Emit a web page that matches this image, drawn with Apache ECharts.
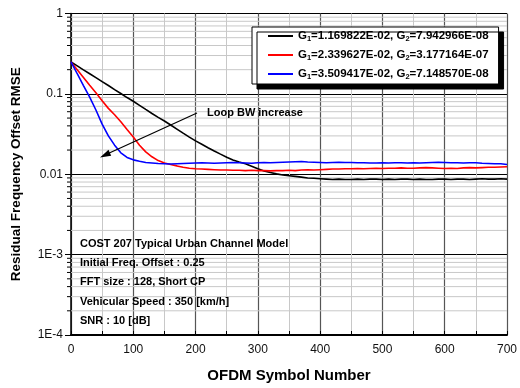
<!DOCTYPE html>
<html>
<head>
<meta charset="utf-8">
<script src="https://cdn.jsdelivr.net/npm/echarts@6/dist/echarts.min.js"></script>
<style>
  html, body { margin: 0; padding: 0; background: #fff; }
  #chart { width: 520px; height: 388px; }
</style>
</head>
<body>
<div id="chart"></div>
<script>
// OFDM symbol index sampled every 10 symbols
const symbols = [
  0, 10, 20, 30, 40, 50, 60, 70, 80, 90,
  100, 110, 120, 130, 140, 150, 160, 170, 180, 190,
  200, 210, 220, 230, 240, 250, 260, 270, 280, 290,
  300, 310, 320, 330, 340, 350, 360, 370, 380, 390,
  400, 410, 420, 430, 440, 450, 460, 470, 480, 490,
  500, 510, 520, 530, 540, 550, 560, 570, 580, 590,
  600, 610, 620, 630, 640, 650, 660, 670, 680, 690, 700
];

// Residual frequency offset RMSE for each loop gain pair
const rmseLoop1 = [
  0.250, 0.223, 0.199, 0.178, 0.159, 0.142, 0.127, 0.113, 0.101, 0.090,
  0.081, 0.072, 0.064, 0.057, 0.051, 0.046, 0.041, 0.0365, 0.0325, 0.0290,
  0.0260, 0.0236, 0.0214, 0.0195, 0.0178, 0.0163, 0.0150, 0.0142, 0.0135, 0.0126,
  0.0117, 0.0110, 0.0105, 0.0101, 0.0098, 0.0096, 0.0094, 0.0092, 0.0090, 0.0089,
  0.0088, 0.0087, 0.0086, 0.0087, 0.0086, 0.0086, 0.0087, 0.0086, 0.0087, 0.0087,
  0.0086, 0.0087, 0.0086, 0.0087, 0.0087, 0.0086, 0.0087, 0.0086, 0.0086, 0.0087,
  0.0087, 0.0086, 0.0087, 0.0087, 0.0086, 0.0087, 0.0088, 0.0087, 0.0087, 0.0088, 0.0087
];
const rmseLoop2 = [
  0.250, 0.200, 0.160, 0.128, 0.103, 0.082, 0.066, 0.055, 0.045, 0.036,
  0.029, 0.023, 0.019, 0.0165, 0.0148, 0.0138, 0.0132, 0.0127, 0.0122, 0.0119,
  0.0117, 0.0116, 0.0115, 0.0114, 0.0113, 0.0113, 0.0112, 0.0112, 0.0111, 0.0112,
  0.0111, 0.0111, 0.0110, 0.0111, 0.0111, 0.0112, 0.0111, 0.0113, 0.0114, 0.0113,
  0.0114, 0.0115, 0.0116, 0.0116, 0.0117, 0.0117, 0.0118, 0.0117, 0.0118, 0.0119,
  0.0118, 0.0119, 0.0119, 0.0120, 0.0119, 0.0119, 0.0120, 0.0121, 0.0120, 0.0119,
  0.0118, 0.0119, 0.0118, 0.0120, 0.0121, 0.0120, 0.0121, 0.0122, 0.0122, 0.0123, 0.0124
];
const rmseLoop3 = [
  0.250, 0.178, 0.127, 0.091, 0.063, 0.042, 0.030, 0.023, 0.0185, 0.0162,
  0.0151, 0.0145, 0.0140, 0.0138, 0.0136, 0.0135, 0.0134, 0.0135, 0.0136, 0.0137,
  0.0138, 0.0139, 0.0138, 0.0137, 0.0138, 0.0139, 0.0140, 0.0139, 0.0138, 0.0137,
  0.0139, 0.0140, 0.0139, 0.0140, 0.0141, 0.0142, 0.0143, 0.0144, 0.0142, 0.0141,
  0.0140, 0.0139, 0.0140, 0.0141, 0.0140, 0.0140, 0.0139, 0.0139, 0.0138, 0.0138,
  0.0139, 0.0138, 0.0139, 0.0139, 0.0138, 0.0139, 0.0138, 0.0139, 0.0140, 0.0141,
  0.0140, 0.0139, 0.0139, 0.0138, 0.0139, 0.0139, 0.0137, 0.0136, 0.0135, 0.0135, 0.0132
];

// Loop filter gains (G1, G2) for each curve
const gainG1 = ['1.169822E-02', '2.339627E-02', '3.509417E-02'];
const gainG2 = ['7.942966E-08', '3.177164E-07', '7.148570E-08'];
const curveColors = ['#000000', '#ff0000', '#0000ff'];

// Log axis decade labels
const decadeValues = [1e-4, 1e-3, 1e-2, 1e-1, 1];
const decadeLabels = ['1E-4', '1E-3', '0.01', '0.1', '1'];

// Simulation conditions
const conditions = [
  'COST 207 Typical Urban Channel Model',
  'Initial Freq. Offset : 0.25',
  'FFT size : 128, Short CP',
  'Vehicular Speed : 350 [km/h]',
  'SNR : 10 [dB]'
];

// Intermediate log gridlines (2..9 within each decade)
const minorLevels = [];
for (let d = 0; d < decadeValues.length - 1; d++) {
  for (let m = 2; m <= 9; m++) minorLevels.push(m * decadeValues[d]);
}

const FONT = '"Liberation Sans", Arial, Helvetica, sans-serif';
const chart = echarts.init(document.getElementById('chart'), null, { renderer: 'canvas' });

const rmseSets = [rmseLoop1, rmseLoop2, rmseLoop3];
const seriesNames = gainG1.map((g1, i) => 'G1=' + g1 + ', G2=' + gainG2[i]);

const lineSeries = rmseSets.map((vals, i) => ({
  name: seriesNames[i],
  type: 'line',
  data: symbols.map((s, k) => [s, vals[k]]),
  showSymbol: false,
  symbol: 'none',
  lineStyle: { color: curveColors[i], width: 1.6 },
  itemStyle: { color: curveColors[i] },
  z: 5,
  animation: false
}));

// Minor horizontal gridlines and left-side minor ticks on the log axis
const minorGridSeries = {
  type: 'custom',
  data: minorLevels.map(v => [v]),
  z: 1,
  silent: true,
  animation: false,
  renderItem: function (params, api) {
    const v = api.value(0);
    const p0 = api.coord([0, v]);
    const p1 = api.coord([700, v]);
    return {
      type: 'group',
      children: [
        { type: 'line', shape: { x1: p0[0], y1: p0[1], x2: p1[0], y2: p1[1] },
          style: { stroke: '#c8c8c8', lineWidth: 1 } },
        { type: 'line', shape: { x1: p0[0] - 4, y1: p0[1], x2: p0[0], y2: p0[1] },
          style: { stroke: '#000', lineWidth: 1 } }
      ]
    };
  },
  encode: { y: 0 }
};

const legendRich = {
  m: { fontFamily: FONT, fontSize: 11.5, fontWeight: 'bold', color: '#000', lineHeight: 14 },
  s: { fontFamily: FONT, fontSize: 7.5, fontWeight: 'bold', color: '#000', lineHeight: 8, verticalAlign: 'bottom' }
};

const condGraphics = conditions.map((t, i) => ({
  type: 'text',
  x: 80,
  y: 243.5 + i * 19.4,
  style: { text: t, font: 'bold 11px ' + FONT, fill: '#000', verticalAlign: 'middle' },
  z: 20
}));

chart.setOption({
  animation: false,
  backgroundColor: '#ffffff',
  grid: { left: 71, right: 10, top: 13.5, bottom: 53, containLabel: false },
  legend: {
    data: seriesNames,
    orient: 'vertical',
    left: 252,
    top: 27,
    icon: 'rect',
    itemWidth: 25,
    itemHeight: 2,
    itemGap: 6,
    padding: [3, 10, 3, 16],
    backgroundColor: '#ffffff',
    borderColor: '#000',
    borderWidth: 1,
    shadowColor: '#000',
    shadowBlur: 0,
    shadowOffsetX: 5,
    shadowOffsetY: 5,
    selectedMode: false,
    formatter: function (name) {
      const parts = name.split(', ');
      const fmt = p => '{m|G}{s|' + p.charAt(1) + '}{m|' + p.slice(2) + '}';
      return fmt(parts[0]) + '{m|, }' + fmt(parts[1]);
    },
    textStyle: { rich: legendRich }
  },
  xAxis: {
    type: 'value',
    min: 0,
    max: 700,
    interval: 100,
    name: 'OFDM Symbol Number',
    nameLocation: 'middle',
    nameGap: 33,
    nameTextStyle: { fontFamily: FONT, fontSize: 15, fontWeight: 'bold', color: '#000' },
    axisLine: { show: true, onZero: false, lineStyle: { color: '#000', width: 2 } },
    axisTick: { show: true, inside: true, length: 4, lineStyle: { color: '#000' } },
    minorTick: { show: true, splitNumber: 2, length: 4, lineStyle: { color: '#000' } },
    axisLabel: { fontFamily: FONT, fontSize: 12, color: '#111', margin: 9 },
    splitLine: { show: true, lineStyle: { color: '#555', width: 1.2 } },
    minorSplitLine: { show: true, lineStyle: { color: '#c8c8c8', width: 1 } }
  },
  yAxis: {
    type: 'log',
    logBase: 10,
    min: 1e-4,
    max: 1,
    name: 'Residual Frequency Offset RMSE',
    nameLocation: 'middle',
    nameGap: 48,
    nameTextStyle: { fontFamily: FONT, fontSize: 13.5, fontWeight: 'bold', color: '#000' },
    axisLine: { show: true, lineStyle: { color: '#000', width: 1.5 } },
    axisTick: { show: true, inside: false, length: 6, lineStyle: { color: '#000' } },
    axisLabel: {
      fontFamily: FONT, fontSize: 12, color: '#111', margin: 8,
      formatter: function (v) {
        const idx = decadeValues.findIndex(d => Math.abs(Math.log10(d) - Math.log10(v)) < 1e-6);
        return idx >= 0 ? decadeLabels[idx] : '';
      }
    },
    splitLine: { show: true, lineStyle: { color: '#000', width: 1 } }
  },
  series: [minorGridSeries].concat(lineSeries),
  graphic: condGraphics.concat([
    {
      type: 'text',
      x: 207,
      y: 112.5,
      style: { text: 'Loop BW increase', font: 'bold 11px ' + FONT, fill: '#000', verticalAlign: 'middle' },
      z: 20
    },
    {
      type: 'line',
      shape: { x1: 197, y1: 113, x2: 106, y2: 154.5 },
      style: { stroke: '#000', lineWidth: 1.2 },
      z: 20
    },
    {
      type: 'polygon',
      shape: { points: [[100, 157.5], [108.5, 149.8], [111.2, 155.7]] },
      style: { fill: '#000' },
      z: 20
    }
  ])
});
</script>
</body>
</html>
